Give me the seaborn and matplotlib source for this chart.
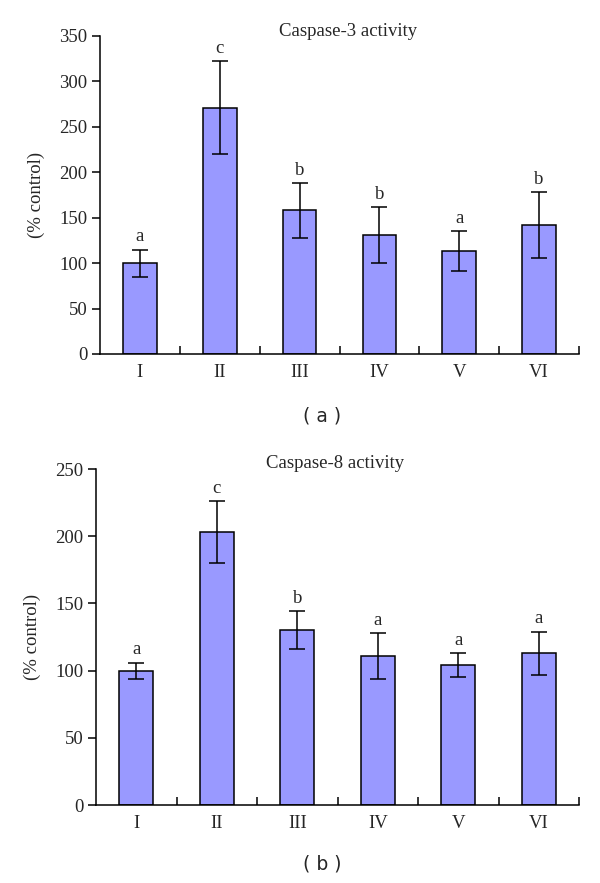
import matplotlib
matplotlib.use("Agg")
import matplotlib.pyplot as plt
import seaborn as sns
import pandas as pd
import numpy as np

groups = ["I", "II", "III", "IV", "V", "VI"]
casp3_values = [100, 271, 158, 131, 113, 142]
casp3_errors = [15, 51, 30, 31, 22, 36]
casp3_letters = ["a", "c", "b", "b", "a", "b"]
casp8_values = [100, 203, 130, 111, 104, 113]
casp8_errors = [6, 23, 14, 17, 9, 16]
casp8_letters = ["a", "c", "b", "a", "a", "a"]

sns.set_theme(style="white")
plt.rcParams["font.family"] = ["Liberation Serif", "DejaVu Serif"]

fig = plt.figure(figsize=(6, 8.83), dpi=100)
BAR_COLOR = "#9999FF"
FS = 13.5


def panel(rect, values, errors, letters, ymax, step, title, title_xy, tag, tag_y):
    ax = fig.add_axes(rect)
    df = pd.DataFrame({"group": groups, "value": values})
    sns.barplot(data=df, x="group", y="value", color=BAR_COLOR, width=0.42,
                edgecolor="black", linewidth=1.1, errorbar=None, saturation=1, ax=ax)
    x = np.arange(len(groups))
    ax.errorbar(x, values, yerr=errors, fmt="none", ecolor="black",
                elinewidth=1.1, capsize=5.5, capthick=1.1)
    for xi, v, e, l in zip(x, values, errors, letters):
        ax.annotate(l, (xi, v + e), xytext=(0, 3), textcoords="offset points",
                    ha="center", va="bottom", fontsize=FS)
    ax.set_xlim(-0.5, len(groups) - 0.5)
    ax.set_ylim(0, ymax)
    ax.set_yticks(np.arange(0, ymax + 1, step))
    ax.set_xticks(np.arange(len(groups)) + 0.5, minor=False)
    ax.set_xticklabels([])
    ax.set_xticks(np.arange(len(groups)), minor=True)
    ax.set_xticklabels(groups, minor=True, fontsize=FS)
    ax.tick_params(axis="x", which="major", bottom=True, direction="in", length=6,
                   width=1.1, color="black")
    ax.tick_params(axis="x", which="minor", bottom=True, length=0, pad=7)
    ax.tick_params(axis="y", left=True, direction="out", length=6, width=1.1,
                   color="black", labelsize=FS, pad=3)
    for s in ["top", "right"]:
        ax.spines[s].set_visible(False)
    for s in ["left", "bottom"]:
        ax.spines[s].set_color("black")
        ax.spines[s].set_linewidth(1.1)
    ax.set_xlabel("")
    ax.set_ylabel("(% control)", fontsize=FS, labelpad=10)
    ax.text(title_xy[0], title_xy[1], title, transform=ax.transAxes,
            ha="center", va="center", fontsize=FS)
    fig.text(322 / 600, 1 - tag_y / 883, "( " + tag + " )", ha="center", va="center",
             fontsize=FS, family=["DejaVu Sans"])
    return ax


panel([100 / 600, 1 - 354 / 883, 479 / 600, 318 / 883], casp3_values, casp3_errors,
      casp3_letters, 350, 50, "Caspase-3 activity", (0.518, 1.013), "a", 416)
panel([96 / 600, 1 - 805 / 883, 483 / 600, 336 / 883], casp8_values, casp8_errors,
      casp8_letters, 250, 50, "Caspase-8 activity", (0.495, 1.016), "b", 864)

fig.savefig("out.png", dpi=100)
